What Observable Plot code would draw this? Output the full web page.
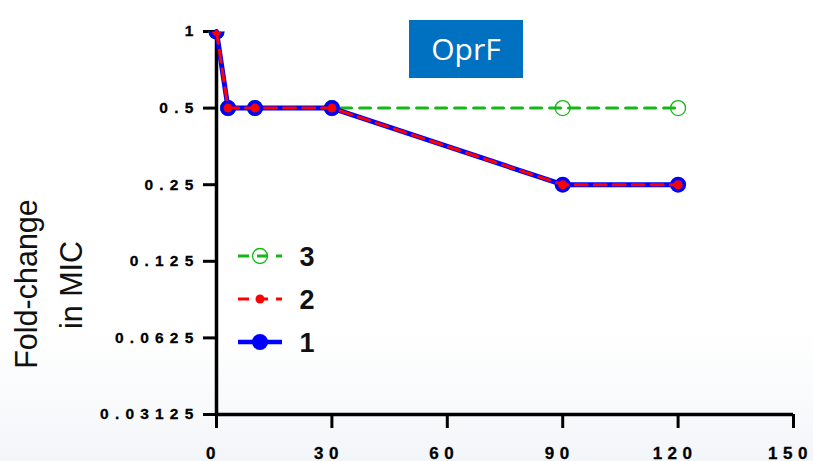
<!DOCTYPE html>
<html><head><meta charset="utf-8">
<script src="https://cdn.jsdelivr.net/npm/d3@7"></script>
<script src="https://cdn.jsdelivr.net/npm/@observablehq/plot@0.6"></script>
<style>
html,body{margin:0;padding:0;}
body{width:813px;height:461px;background:linear-gradient(to bottom,#ffffff 0px,#ffffff 330px,#f3f6f9 461px);position:relative;overflow:hidden;font-family:"Liberation Sans",Arial,sans-serif;}
#chart{position:absolute;left:0;top:0;}
#title{position:absolute;left:409px;top:20px;width:114px;height:58px;background:#0070c0;color:#fff;font-family:"Open Sans",sans-serif;font-size:30px;display:flex;align-items:center;justify-content:center;line-height:1;}
</style></head><body>
<div id="chart"></div>
<div id="title">OprF</div>
<script>
// Data
const times = [0, 3, 10, 30, 90, 120];
const series3 = [1, 0.5, 0.5, 0.5, 0.5, 0.5];
const series2 = [1, 0.5, 0.5, 0.5, 0.25, 0.25];
const series1 = [1, 0.5, 0.5, 0.5, 0.25, 0.25];
const seriesNames = ["3", "2", "1"];
const xTicks = [0, 30, 60, 90, 120, 150];
const yTicks = [1, 0.5, 0.25, 0.125, 0.0625, 0.03125];
const yLabelLines = ["Fold-change", "in MIC"];
const titleText = "OprF";

document.getElementById("title").textContent = titleText;

const rows = s => times.map((t, i) => ({t, v: s[i]}));
const d1 = rows(series1), d2 = rows(series2), d3s = rows(series3);

const GREEN = "#14b814", RED = "#ff0000", BLUE = "#0000ff";

const plot = Plot.plot({
  width: 813, height: 461,
  marginLeft: 216, marginRight: 20, marginTop: 31, marginBottom: 47,
  style: {background: "transparent", overflow: "visible", fontFamily: "'Liberation Sans', Arial, sans-serif", color: "black"},
  x: {domain: [0, 150]},
  y: {type: "log", base: 2, domain: [0.03125, 1]},
  marks: [
    Plot.axisY(yTicks, {tickSize: 13, tickPadding: 4, strokeWidth: 3, tickFormat: d => String(d), label: null}),
    Plot.axisX(xTicks, {tickSize: 14, tickPadding: 5, strokeWidth: 3, tickFormat: d => String(d), label: null}),
    Plot.ruleX([0], {stroke: "black", strokeWidth: 3.5}),
    Plot.ruleY([0.03125], {stroke: "black", strokeWidth: 3.5}),
    Plot.line(d3s, {x: "t", y: "v", stroke: GREEN, strokeWidth: 3, strokeDasharray: "11,8"}),
    Plot.dot(d3s, {x: "t", y: "v", r: 7.5, stroke: GREEN, strokeWidth: 1.3, fill: "none"}),
    Plot.line(d1, {x: "t", y: "v", stroke: BLUE, strokeWidth: 5}),
    Plot.dot(d1, {x: "t", y: "v", r: 8, fill: BLUE, stroke: "none"}),
    Plot.line(d2, {x: "t", y: "v", stroke: RED, strokeWidth: 3, strokeDasharray: "12,7"}),
    Plot.dot(d2, {x: "t", y: "v", r: 4.5, fill: RED, stroke: "none"})
  ]
});
document.getElementById("chart").appendChild(plot);

const svg = d3.select(plot);
svg.selectAll('g[aria-label="y-axis tick label"] text')
  .style("letter-spacing", "6.2px").style("font-size", "15.5px").style("font-weight", "bold")
  .attr("stroke", "black").attr("stroke-width", 0.3);
svg.selectAll('g[aria-label="x-axis tick label"] text')
  .style("letter-spacing", "5.5px").style("font-size", "17px").style("font-weight", "bold")
  .attr("stroke", "black").attr("stroke-width", 0.3)
  .attr("dx", -3).attr("dy", 13);

// clip dots to the plot area top
const defs = svg.insert("defs", ":first-child");
defs.append("clipPath").attr("id", "topclip").append("rect")
  .attr("x", 0).attr("y", 31).attr("width", 813).attr("height", 430);
svg.selectAll('g[aria-label="dot"]').attr("clip-path", "url(#topclip)");

// y label
const yl = svg.append("g").attr("font-family", "'Liberation Sans', Arial, sans-serif").attr("font-size", 30.5).attr("fill", "#111");
yl.append("text").attr("transform", "translate(37,284) rotate(-90)").attr("text-anchor", "middle").text(yLabelLines[0]);
yl.append("text").attr("transform", "translate(82,285) rotate(-90)").attr("text-anchor", "middle").text(yLabelLines[1]);

// legend
const lg = svg.append("g");
const items = [
  {name: seriesNames[0], y: 256, stroke: GREEN, w: 3, dash: "11,8", sym: {r: 7.5, fill: "none", stroke: GREEN, sw: 1.3}},
  {name: seriesNames[1], y: 299, stroke: RED, w: 3, dash: "11,8", sym: {r: 4.5, fill: RED, stroke: "none", sw: 0}},
  {name: seriesNames[2], y: 342, stroke: BLUE, w: 4.5, dash: null, sym: {r: 8, fill: BLUE, stroke: "none", sw: 0}}
];
for (const it of items) {
  const l = lg.append("line").attr("x1", 238).attr("x2", 282).attr("y1", it.y).attr("y2", it.y)
    .attr("stroke", it.stroke).attr("stroke-width", it.w);
  if (it.dash) l.attr("stroke-dasharray", it.dash);
  lg.append("circle").attr("cx", 260).attr("cy", it.y).attr("r", it.sym.r)
    .attr("fill", it.sym.fill).attr("stroke", it.sym.stroke).attr("stroke-width", it.sym.sw);
  lg.append("text").attr("x", 307).attr("y", it.y).attr("dy", "0.36em")
    .attr("font-size", 27).attr("font-weight", "bold").attr("fill", "#111")
    .attr("font-family", "'Liberation Sans', Arial, sans-serif").text(it.name);
}
</script>
</body></html>
